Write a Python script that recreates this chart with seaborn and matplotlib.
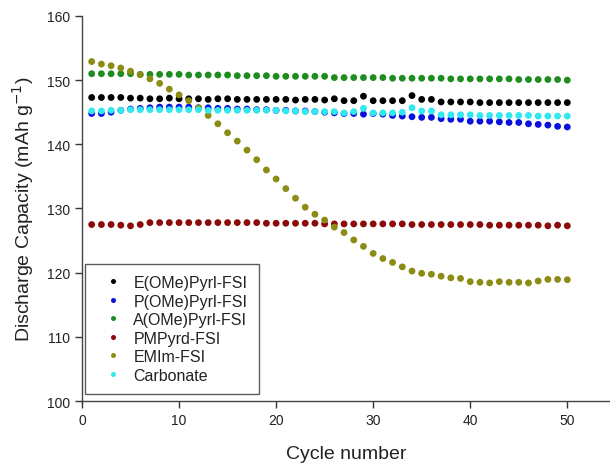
import numpy as np
import pandas as pd
import matplotlib
matplotlib.use("Agg")
import matplotlib.pyplot as plt
from matplotlib.lines import Line2D
import seaborn as sns

cycles = list(range(1, 51))

e_ome_pyrl = [147.3, 147.3, 147.3, 147.3, 147.2, 147.2, 147.1, 147.1, 147.2, 147.1,
              147.1, 147.1, 147.0, 147.1, 147.1, 147.0, 147.0, 147.0, 147.0, 147.0,
              147.0, 146.9, 147.0, 147.0, 146.9, 147.1, 146.8, 146.8, 147.5, 146.8,
              146.8, 146.8, 146.8, 147.6, 147.0, 147.0, 146.6, 146.6, 146.6, 146.6,
              146.5, 146.5, 146.5, 146.5, 146.5, 146.5, 146.5, 146.5, 146.5, 146.5]

p_ome_pyrl = [144.8, 144.8, 145.0, 145.3, 145.5, 145.6, 145.7, 145.8, 145.8, 145.8,
              145.8, 145.7, 145.7, 145.6, 145.6, 145.5, 145.5, 145.4, 145.4, 145.3,
              145.3, 145.2, 145.2, 145.1, 145.0, 144.9, 144.8, 144.8, 144.7, 144.8,
              144.7, 144.5, 144.4, 144.3, 144.2, 144.2, 144.0, 143.9, 143.9, 143.6,
              143.6, 143.6, 143.5, 143.4, 143.4, 143.2, 143.1, 143.0, 142.8, 142.7]

a_ome_pyrl = [151.0, 151.0, 151.0, 151.0, 151.0, 150.9, 150.9, 150.9, 150.9, 150.9,
              150.8, 150.8, 150.8, 150.8, 150.8, 150.7, 150.7, 150.7, 150.7, 150.6,
              150.6, 150.6, 150.6, 150.6, 150.6, 150.4, 150.4, 150.4, 150.4, 150.4,
              150.4, 150.3, 150.3, 150.3, 150.3, 150.3, 150.3, 150.2, 150.2, 150.2,
              150.2, 150.2, 150.2, 150.2, 150.1, 150.1, 150.1, 150.1, 150.1, 150.0]

pmpyrd = [127.5, 127.5, 127.5, 127.4, 127.3, 127.5, 127.8, 127.8, 127.8, 127.8,
          127.8, 127.8, 127.8, 127.8, 127.8, 127.8, 127.8, 127.8, 127.7, 127.7,
          127.7, 127.7, 127.7, 127.7, 127.6, 127.6, 127.6, 127.6, 127.6, 127.6,
          127.6, 127.6, 127.6, 127.5, 127.5, 127.5, 127.5, 127.5, 127.5, 127.5,
          127.5, 127.4, 127.4, 127.4, 127.4, 127.4, 127.4, 127.3, 127.4, 127.3]

emim = [152.9, 152.5, 152.25, 151.9, 151.4, 150.85, 150.2, 149.5, 148.6, 147.7,
        146.8, 145.7, 144.5, 143.2, 141.8, 140.5, 139.1, 137.6, 136.0, 134.6,
        133.1, 131.6, 130.2, 129.1, 128.2, 127.1, 126.25, 125.1, 124.1, 123.0,
        122.2, 121.6, 120.9, 120.25, 119.9, 119.75, 119.45, 119.2, 119.1, 118.6,
        118.5, 118.4, 118.6, 118.5, 118.5, 118.4, 118.7, 118.95, 118.95, 118.9]

carbonate = [145.2, 145.2, 145.3, 145.3, 145.4, 145.4, 145.4, 145.4, 145.4, 145.4,
             145.4, 145.4, 145.3, 145.3, 145.3, 145.3, 145.3, 145.3, 145.3, 145.3,
             145.2, 145.2, 145.1, 145.1, 145.1, 145.1, 144.9, 145.1, 145.6, 144.9,
             144.9, 144.9, 145.0, 145.7, 145.2, 145.2, 144.6, 144.6, 144.6, 144.6,
             144.5, 144.5, 144.5, 144.5, 144.5, 144.5, 144.4, 144.4, 144.4, 144.4]

series_names = ["E(OMe)Pyrl-FSI", "P(OMe)Pyrl-FSI", "A(OMe)Pyrl-FSI",
                "PMPyrd-FSI", "EMIm-FSI", "Carbonate"]
series_values = [e_ome_pyrl, p_ome_pyrl, a_ome_pyrl, pmpyrd, emim, carbonate]
series_colors = ["#000000", "#0a10e0", "#1e8c1e", "#8c0a0a", "#8c8c14", "#30e8f0"]

x_ticks = [0, 10, 20, 30, 40, 50]
y_ticks = [100, 110, 120, 130, 140, 150, 160]

df = pd.concat(
    [pd.DataFrame({"cycle": cycles, "capacity": vals, "electrolyte": name})
     for name, vals in zip(series_names, series_values)],
    ignore_index=True,
)

sns.set_theme(style="ticks")
plt.rcParams["font.family"] = ["Liberation Sans", "DejaVu Sans"]

fig = plt.figure(figsize=(6.10, 4.64), dpi=100)
ax = fig.add_axes([0.1344, 0.1336, 0.8656, 0.8298])

sns.scatterplot(data=df, x="cycle", y="capacity", hue="electrolyte",
                hue_order=series_names, palette=series_colors,
                s=24, edgecolor="none", legend=False, ax=ax)

ax.set_xlim(0, 54.4)
ax.set_ylim(100, 160)
ax.set_xticks(x_ticks)
ax.set_yticks(y_ticks)
ax.tick_params(axis="both", direction="out", length=5, width=1,
               labelsize=10, colors="#333333", labelcolor="#222222")

for side in ("top", "right"):
    ax.spines[side].set_visible(False)
for side in ("left", "bottom"):
    ax.spines[side].set_color("#444444")
    ax.spines[side].set_linewidth(1.0)

ax.set_xlabel("Cycle number", fontsize=14, color="#222222", labelpad=13)
ax.set_ylabel("Discharge Capacity (mAh g$^{-1}$)", fontsize=14,
              color="#222222", labelpad=8)

handles = [Line2D([], [], linestyle="none", marker="o", markersize=3.6,
                  markerfacecolor=c, markeredgecolor="none")
           for c in series_colors]
leg = ax.legend(handles, series_names, loc="lower left",
                bbox_to_anchor=(0.006, 0.018), borderaxespad=0,
                prop={"size": 11.5}, frameon=True, fancybox=False,
                labelspacing=0.22, handletextpad=0.2, borderpad=0.72,
                handlelength=2.1)
leg.get_frame().set_edgecolor("#333333")
leg.get_frame().set_linewidth(1.0)
for t in leg.get_texts():
    t.set_color("#222222")

fig.savefig("out.png", dpi=100)
